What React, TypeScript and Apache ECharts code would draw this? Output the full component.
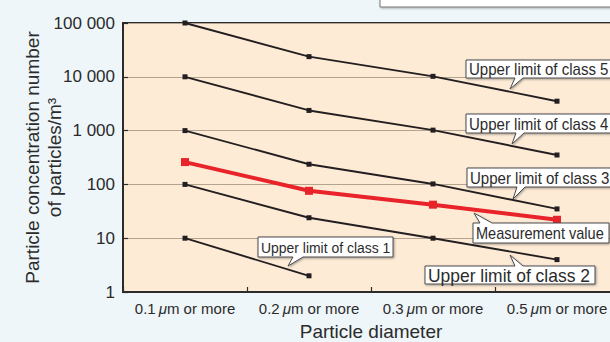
import React, { useEffect, useRef } from 'react';
import * as echarts from 'echarts';

const categories = ['0.1', '0.2', '0.3', '0.5'];
const class5 = [100000, 23700, 10200, 3520];
const class4 = [10000, 2370, 1020, 352];
const class3 = [1000, 237, 102, 35];
const class2 = [100, 24, 10, 4];
const class1: (number | string)[] = [10, 2, '-', '-'];
const measured = [260, 76, 42, 22];

const FONT = '"Liberation Sans", Arial, Helvetica, sans-serif';

type Callout = {
  text: string; x: number; y: number; w: number; h: number;
  tail: 'top' | 'bottom'; b1: number; b2: number; tx: number; ty: number;
  fs: number; sx: number;
};

const callouts: Callout[] = [
  { text: 'Upper limit of class 5', x: 466, y: 60, w: 150, h: 18, tail: 'bottom', b1: 515, b2: 523, tx: 510, ty: 89, fs: 16, sx: 0.94 },
  { text: 'Upper limit of class 4', x: 466, y: 114, w: 150, h: 19, tail: 'bottom', b1: 516, b2: 524, tx: 512, ty: 144, fs: 16, sx: 0.94 },
  { text: 'Upper limit of class 3', x: 467, y: 168, w: 150, h: 19, tail: 'bottom', b1: 517, b2: 525, tx: 513, ty: 199, fs: 16, sx: 0.94 },
  { text: 'Measurement value', x: 473, y: 223, w: 136, h: 20, tail: 'top', b1: 480, b2: 492, tx: 474, ty: 213, fs: 16, sx: 0.91 },
  { text: 'Upper limit of class 2', x: 425, y: 266, w: 170, h: 18, tail: 'top', b1: 515, b2: 523, tx: 510, ty: 255, fs: 18, sx: 0.97 },
  { text: 'Upper limit of class 1', x: 258, y: 237, w: 135, h: 20, tail: 'bottom', b1: 293, b2: 303, tx: 288, ty: 266, fs: 15, sx: 0.93 },
];

function calloutGraphic(c: Callout) {
  const { x, y, w, h } = c;
  const pts = c.tail === 'bottom'
    ? [[x, y], [x + w, y], [x + w, y + h], [c.b2, y + h], [c.tx, c.ty], [c.b1, y + h], [x, y + h]]
    : [[x, y], [c.b1, y], [c.tx, c.ty], [c.b2, y], [x + w, y], [x + w, y + h], [x, y + h]];
  return [
    {
      type: 'polygon',
      z: 100,
      shape: { points: pts },
      style: {
        fill: '#ffffff', stroke: '#4a4a4a', lineWidth: 1,
        shadowBlur: 2, shadowOffsetX: 1, shadowOffsetY: 1, shadowColor: 'rgba(0,0,0,0.35)',
      },
    },
    {
      type: 'text',
      z: 101,
      x: x + 3,
      y: y + h / 2 + 0.5,
      scaleX: c.sx,
      style: {
        text: c.text, fill: '#2b2b2b', fontSize: c.fs, fontFamily: FONT,
        textAlign: 'left', textVerticalAlign: 'middle',
      },
    },
  ];
}

function fmtNum(v: number) {
  return String(Math.round(v)).replace(/\B(?=(\d{3})+(?!\d))/g, ' ');
}

export default function App() {
  const ref = useRef<HTMLDivElement>(null);
  useEffect(() => {
    if (!ref.current) return;
    const chart = echarts.init(ref.current, null, { renderer: 'svg' });
    const blackLine = (name: string, data: (number | string)[]) => ({
      name, type: 'line', data, symbol: 'rect', symbolSize: 5,
      lineStyle: { color: '#231f20', width: 1.9 },
      itemStyle: { color: '#231f20' },
      z: 3,
    });
    chart.setOption({
      animation: false,
      backgroundColor: '#eef6f9',
      textStyle: { fontFamily: FONT },
      grid: {
        left: 123, top: 23, width: 496, height: 269,
        outerBoundsMode: 'none',
        containLabel: false,
        show: true, backgroundColor: '#fdebd6', borderColor: '#2b2b2b', borderWidth: 2,
      },
      xAxis: {
        type: 'category',
        data: categories,
        boundaryGap: true,
        name: 'Particle diameter',
        nameLocation: 'middle',
        nameGap: 30,
        nameMoveOverlap: false,
        nameTextStyle: { fontSize: 19, color: '#2b2b2b', fontFamily: FONT },
        axisLine: { lineStyle: { color: '#2b2b2b', width: 2 } },
        axisTick: { show: true, inside: true, length: 5, interval: 0, lineStyle: { color: '#2b2b2b', width: 1.2 } },
        axisLabel: {
          margin: 9,
          interval: 0,
          color: '#2b2b2b',
          fontSize: 15,
          formatter: (v: string) => `${v}\u2009{i|μ}m or more`,
          rich: { i: { fontStyle: 'italic', fontSize: 15, color: '#2b2b2b', fontFamily: FONT } },
        },
        splitLine: { show: false },
      },
      yAxis: {
        type: 'log',
        logBase: 10,
        min: 1,
        max: 100000,
        name: 'Particle concentration number\nof particles/m³',
        nameLocation: 'middle',
        nameRotate: 90,
        nameGap: 58,
        nameMoveOverlap: false,
        nameTextStyle: { fontSize: 19, color: '#2b2b2b', lineHeight: 22, fontFamily: FONT },
        axisLine: { show: true, lineStyle: { color: '#2b2b2b', width: 2 } },
        axisTick: { show: true, inside: true, length: 5, lineStyle: { color: '#2b2b2b', width: 1.2 } },
        axisLabel: { color: '#2b2b2b', fontSize: 17, margin: 8, formatter: (v: number) => fmtNum(v) },
        splitLine: { show: true, lineStyle: { color: '#b4a48f', width: 1 } },
        minorTick: { show: false },
      },
      series: [
        blackLine('class5', class5),
        blackLine('class4', class4),
        blackLine('class3', class3),
        blackLine('class2', class2),
        blackLine('class1', class1),
        {
          name: 'measured', type: 'line', data: measured, symbol: 'rect', symbolSize: 8,
          lineStyle: { color: '#e8232a', width: 4 },
          itemStyle: { color: '#e8232a' },
          z: 4,
        },
      ],
      graphic: [
        {
          type: 'rect', z: 100,
          shape: { x: 380, y: -20, width: 240, height: 27 },
          style: {
            fill: '#ffffff', stroke: '#777777', lineWidth: 1,
            shadowBlur: 2, shadowOffsetX: 1, shadowOffsetY: 1, shadowColor: 'rgba(0,0,0,0.3)',
          },
        },
        ...callouts.flatMap(calloutGraphic),
      ],
    });
    return () => chart.dispose();
  }, []);
  return (
    <div
      ref={ref}
      style={{ position: 'fixed', left: 0, top: 0, width: 610, height: 342 }}
    />
  );
}
